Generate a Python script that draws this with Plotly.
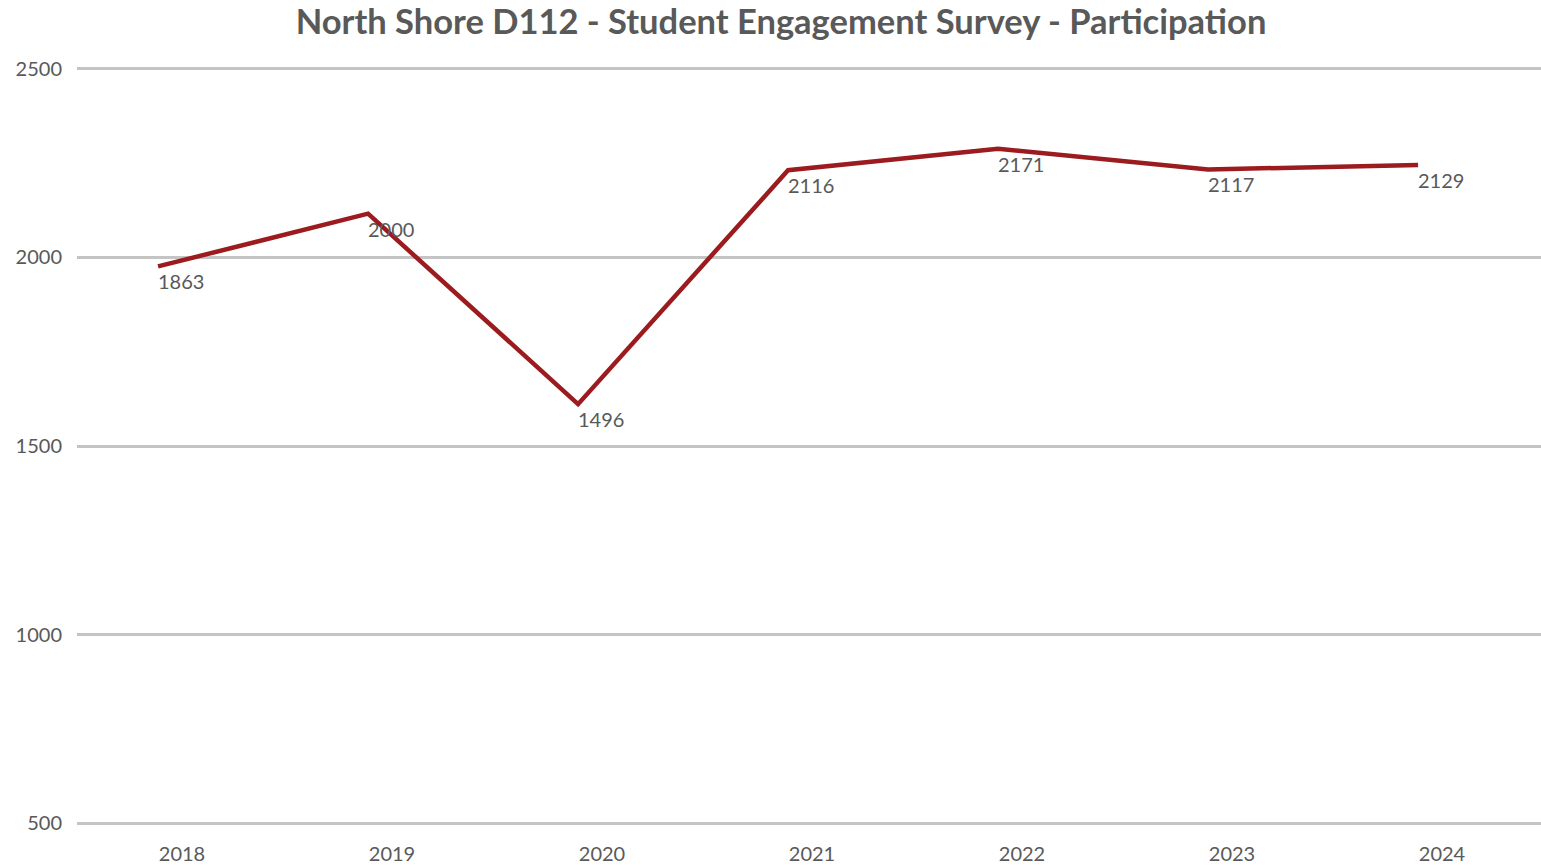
import plotly.graph_objects as go

years = ["2018", "2019", "2020", "2021", "2022", "2023", "2024"]
line_values = [1976, 2116, 1611, 2231, 2288, 2233, 2245]
label_values = ["1863", "2000", "1496", "2116", "2171", "2117", "2129"]
y_ticks = [500, 1000, 1500, 2000, 2500]

title = "North Shore D112 - Student Engagement Survey - Participation"
grey = "#595959"
font_family = "Lato, 'Open Sans', sans-serif"

fig = go.Figure()
fig.add_trace(go.Scatter(
    x=years, y=line_values, mode="lines",
    line=dict(color="#9b1b1f", width=4.5),
    xaxis="x2", hoverinfo="skip", showlegend=False,
))
# invisible trace to set categories on primary x axis
fig.add_trace(go.Scatter(x=years, y=[None]*len(years), mode="lines", showlegend=False, hoverinfo="skip"))

for i, (v, lab) in enumerate(zip(line_values, label_values)):
    fig.add_annotation(x=i, y=v, xref="x2", yref="y", text=lab, showarrow=False,
                       xanchor="left", yanchor="top", yshift=-1, xshift=-2,
                       font=dict(family=font_family, size=20, color=grey))

fig.update_layout(
    width=1541, height=865,
    margin=dict(l=77, r=0, t=65.2, b=36.2),
    paper_bgcolor="white", plot_bgcolor="white",
    title=dict(text=title, x=781/1541, xref="container", xanchor="center",
               y=1-22/865, yref="container", yanchor="middle",
               font=dict(family=font_family, size=34.5, color=grey, weight="bold")),
    xaxis=dict(type="category", range=[-0.5, 6.4714], showgrid=False, showline=False,
               zeroline=False, tickfont=dict(family=font_family, size=20, color=grey),
               ticks="", ticklabelstandoff=13),
    xaxis2=dict(type="category", overlaying="x", range=[-0.386, 6.5854], visible=False),
    yaxis=dict(range=[490, 2510], tickvals=y_ticks, showgrid=True, gridcolor="#c4c4c4",
               gridwidth=3, zeroline=False, showline=False,
               tickfont=dict(family=font_family, size=20, color=grey),
               ticks="", ticklabelstandoff=14),
)

fig.write_html("out.html", config={"displayModeBar": False},
               post_script="document.body.style.margin='0';document.body.style.overflow='hidden';")
